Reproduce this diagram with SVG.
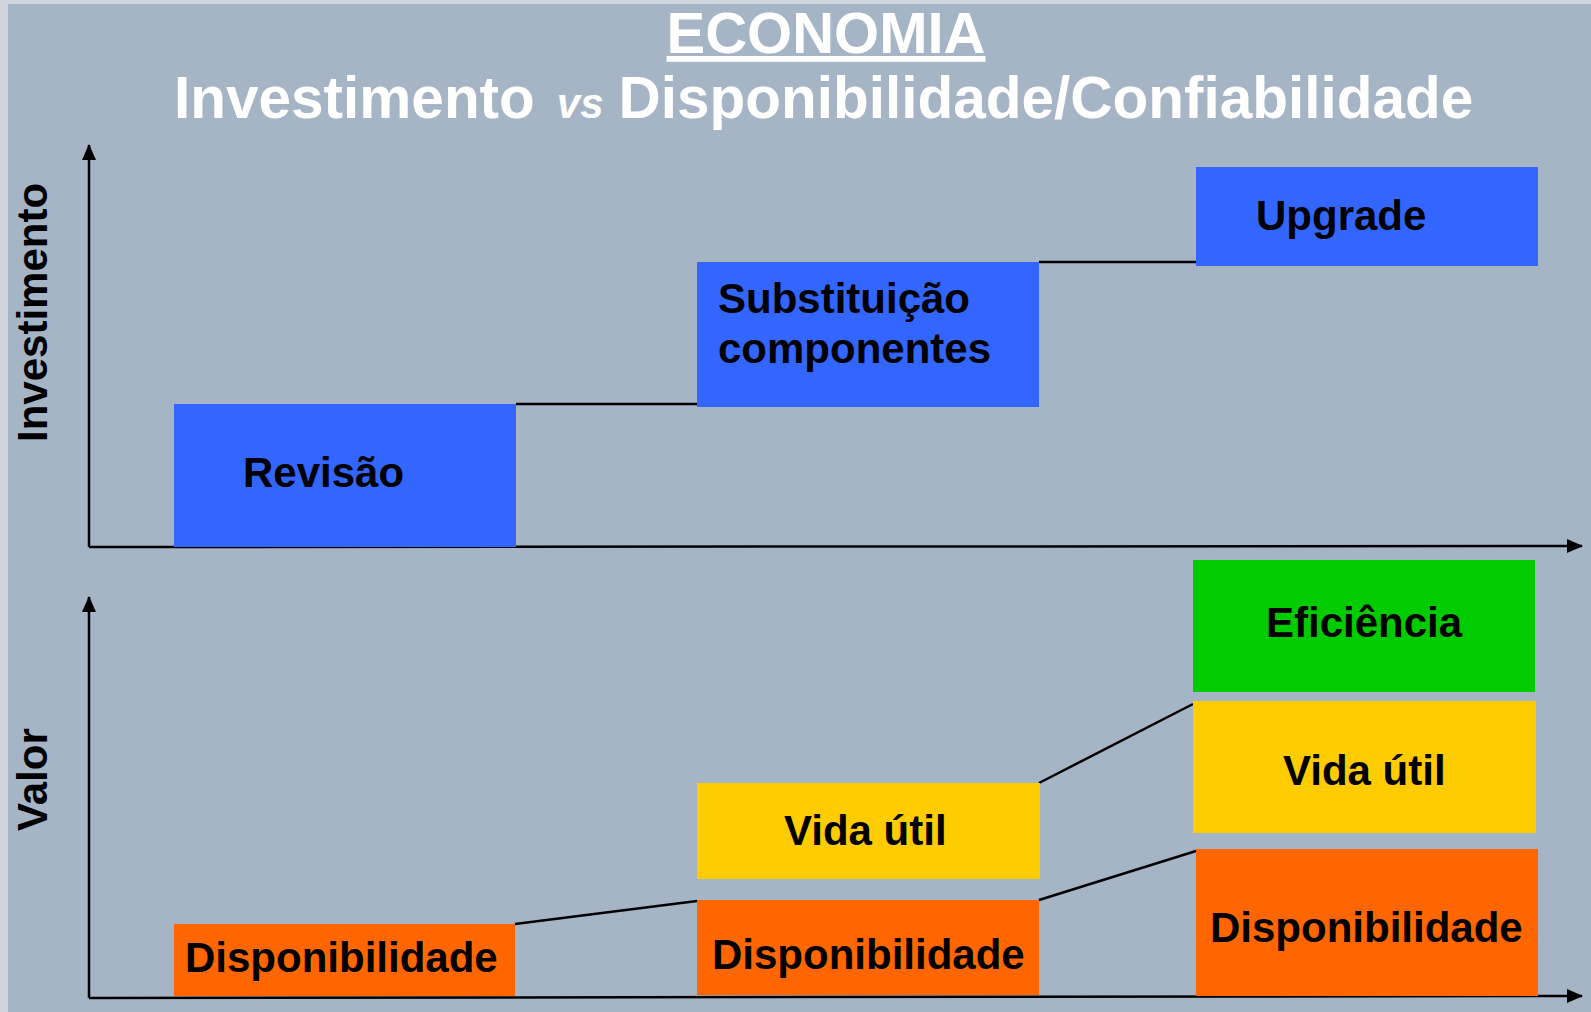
<svg xmlns="http://www.w3.org/2000/svg" width="1591" height="1012" viewBox="0 0 1591 1012">
<style>
.t{font-family:"Liberation Sans",Arial,sans-serif;font-weight:bold;fill:#000;font-size:42px}
.w{font-family:"Liberation Sans",Arial,sans-serif;font-weight:bold;fill:#fff;font-size:58px}
.ln{stroke:#000;stroke-width:2.5;fill:none}
.ax{stroke:#000;stroke-width:2.5;fill:none}
.blue{fill:#3366ff}.orange{fill:#ff6600}.yellow{fill:#ffcc00}.green{fill:#00cc00}
</style>
<defs>
<marker id="ah" viewBox="0 0 16 14" refX="15" refY="7" markerWidth="16" markerHeight="14" markerUnits="userSpaceOnUse" orient="auto">
<path d="M0,0 L16,7 L0,14 Z" fill="#000"/>
</marker>
</defs>
<rect x="0" y="0" width="1591" height="1012" fill="#d0d5dd"/>
<rect x="8" y="4" width="1583" height="1008" fill="#a5b5c6"/>
<g id="title">
<text class="w" x="826" y="53" text-anchor="middle" text-decoration="underline">ECONOMIA</text>
<text class="w" x="174" y="118" style="font-size:58.5px">Investimento<tspan style="font-style:italic;font-size:42px" dx="22">vs</tspan><tspan dx="15">Disponibilidade/Confiabilidade</tspan></text>
</g>
<g id="axes">
<line class="ax" x1="89" y1="547" x2="89" y2="145" marker-end="url(#ah)"/>
<line class="ax" x1="89" y1="547" x2="1582" y2="546" marker-end="url(#ah)"/>
<line class="ax" x1="89" y1="998" x2="89" y2="597" marker-end="url(#ah)"/>
<line class="ax" x1="89" y1="998" x2="1582" y2="996" marker-end="url(#ah)"/>
<text class="t" transform="translate(47,442) rotate(-90)">Investimento</text>
<text class="t" transform="translate(47,831) rotate(-90)">Valor</text>
</g>
<g id="connectors">
<line class="ln" x1="516" y1="404" x2="697" y2="404"/>
<line class="ln" x1="1039" y1="262" x2="1196" y2="262"/>
<line class="ln" x1="515" y1="924" x2="697" y2="901"/>
<line class="ln" x1="1039" y1="900" x2="1196" y2="851"/>
<line class="ln" x1="1039" y1="783" x2="1193" y2="704"/>
</g>
<g id="revisao"><rect class="blue" x="174" y="404" width="342" height="143"/><text class="t" x="243" y="487">Revisão</text></g>
<g id="substituicao"><rect class="blue" x="697" y="262" width="342" height="145"/><text class="t" x="718" y="313">Substituição</text><text class="t" x="718" y="363">componentes</text></g>
<g id="upgrade"><rect class="blue" x="1196" y="167" width="342" height="99"/><text class="t" x="1256" y="230">Upgrade</text></g>
<g id="disp1"><rect class="orange" x="174" y="924" width="341" height="72"/><text class="t" x="185" y="972">Disponibilidade</text></g>
<g id="disp2"><rect class="orange" x="697" y="900" width="342" height="95"/><text class="t" x="712" y="969">Disponibilidade</text></g>
<g id="vida1"><rect class="yellow" x="697" y="783" width="343" height="96"/><text class="t" x="784" y="845">Vida útil</text></g>
<g id="disp3"><rect class="orange" x="1196" y="849" width="342" height="147"/><text class="t" x="1210" y="942">Disponibilidade</text></g>
<g id="vida2"><rect class="yellow" x="1193" y="701" width="343" height="132"/><text class="t" x="1283" y="785">Vida útil</text></g>
<g id="eficiencia"><rect class="green" x="1193" y="560" width="342" height="132"/><text class="t" x="1266" y="637">Eficiência</text></g>
</svg>
